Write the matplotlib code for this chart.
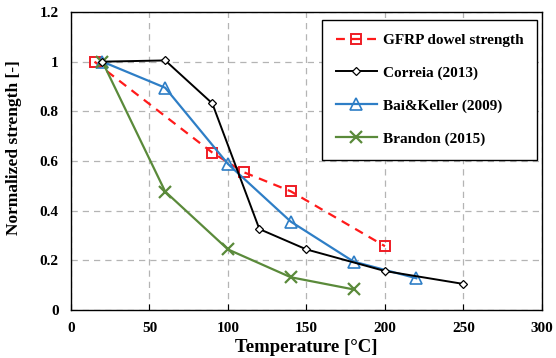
import matplotlib
matplotlib.use('Agg')
import matplotlib.pyplot as plt
from matplotlib.ticker import FuncFormatter

plt.rcParams['font.family'] = ['Liberation Serif', 'DejaVu Serif']
plt.rcParams['font.weight'] = 'bold'

# Данные
gfrp_t = [15, 90, 110, 140, 200]
gfrp_s = [1.0, 0.634, 0.555, 0.478, 0.257]

correia_t = [20, 60, 90, 120, 150, 200, 250]
correia_s = [1.0, 1.005, 0.832, 0.326, 0.244, 0.157, 0.105]

bai_t = [20, 60, 100, 140, 180, 220]
bai_s = [1.0, 0.895, 0.588, 0.356, 0.195, 0.128]

brandon_t = [20, 60, 100, 140, 180]
brandon_s = [1.0, 0.477, 0.244, 0.132, 0.083]

fig = plt.figure(figsize=(5.56, 3.58), dpi=100)
ax = fig.add_axes([0.1277, 0.134, 0.847, 0.8325])

ax.plot(gfrp_t, gfrp_s, color='#ff1a1a', ls=(0, (4, 3)), lw=1.6, marker='s',
        ms=7, mfc='none', mec='#ee1c25', mew=1.4, label='GFRP dowel strength', zorder=3)
ax.plot(correia_t, correia_s, color='black', lw=1.4, marker='D', ms=4.5,
        mfc='white', mec='black', mew=0.9, label='Correia (2013)', zorder=4)
ax.plot(bai_t, bai_s, color='#2e7ec6', lw=1.6, marker='^', ms=8,
        mfc='none', mec='#2e7ec6', mew=1.2, label='Bai&Keller (2009)', zorder=3)
ax.plot(brandon_t, brandon_s, color='#5a8a3a', lw=1.6, marker='x', ms=8,
        mew=1.6, label='Brandon (2015)', zorder=3)

ax.set_xlim(0, 300)
ax.set_ylim(0, 1.2)
ax.set_xticks(range(0, 301, 50))
ax.set_yticks([0, 0.2, 0.4, 0.6, 0.8, 1.0, 1.2])
ax.yaxis.set_major_formatter(FuncFormatter(lambda v, p: '%g' % v))
ax.grid(True, color='#b4b4b4', ls=(0, (5, 4)), lw=0.9)
ax.set_axisbelow(True)
ax.tick_params(axis='x', direction='in', length=4, width=0.8, labelsize=11, pad=8.5)
ax.tick_params(axis='y', direction='in', length=0, labelsize=11, pad=9)
for s in ax.spines.values():
    s.set_linewidth(1.0)

ax.set_xlabel('Temperature [°C]', fontsize=13.5, fontweight='bold')
ax.set_ylabel('Normalized strength [-]', fontsize=12.5, fontweight='bold')
ax.xaxis.set_label_coords(0.5, -0.098)
ax.yaxis.set_label_coords(-0.104, 0.544)

leg = ax.legend(loc='upper right', bbox_to_anchor=(0.997, 0.985), fontsize=11,
                frameon=True, fancybox=False, edgecolor='black', framealpha=1,
                handlelength=2.7, handletextpad=0.4, borderpad=0.9,
                labelspacing=1.25, borderaxespad=0.2)
leg.get_frame().set_linewidth(1.0)

plt.savefig('out.png', dpi=100)
